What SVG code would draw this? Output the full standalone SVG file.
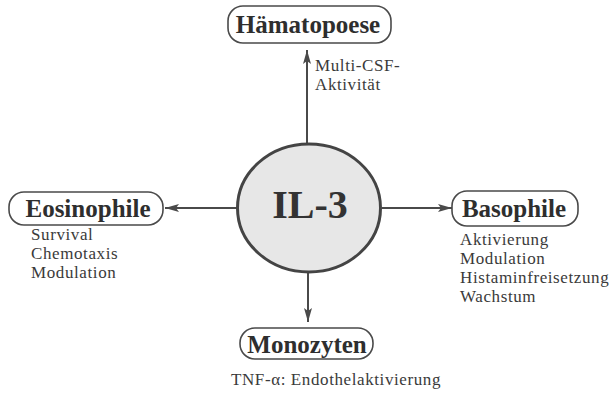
<svg xmlns="http://www.w3.org/2000/svg" width="616" height="397" viewBox="0 0 616 397">
  <style>
    .box { fill: #ffffff; stroke: #4a4a4a; stroke-width: 1.6; }
    .title { font-family: "Liberation Serif", "Times New Roman", serif; font-weight: bold; font-size: 25px; fill: #2e2e2e; }
    .sub { font-family: "Liberation Serif", "Times New Roman", serif; font-size: 17px; letter-spacing: 0.6px; fill: #3a3a3a; }
    .link { stroke: #4a4a4a; stroke-width: 2; fill: none; marker-end: url(#head); }
  </style>
  <defs>
    <marker id="head" viewBox="0 0 14 8" refX="14" refY="4" markerWidth="14" markerHeight="8" markerUnits="userSpaceOnUse" orient="auto">
      <path d="M0,0 L14,4 L0,8 L3,4 Z" fill="#4a4a4a"/>
    </marker>
  </defs>
  <rect width="616" height="397" fill="#ffffff"/>

  <!-- connectors radiating from the central cytokine -->
  <g id="connectors">
    <line class="link" x1="307" y1="143" x2="307" y2="50"/>
    <line class="link" x1="237" y1="208" x2="165" y2="208"/>
    <line class="link" x1="382" y1="208" x2="452" y2="208"/>
    <line class="link" x1="308" y1="272" x2="308" y2="322"/>
  </g>

  <g id="il3">
    <ellipse cx="309" cy="208" rx="71.5" ry="64" fill="#e7e7e7" stroke="#444444" stroke-width="3"/>
    <text x="310" y="218" text-anchor="middle" font-family="Liberation Serif, Times New Roman, serif" font-weight="bold" font-size="40" fill="#333333">IL-3</text>
  </g>

  <g id="haematopoese">
    <rect class="box" x="228" y="6" width="163" height="37" rx="15"/>
    <text class="title" x="308" y="33" text-anchor="middle">Hämatopoese</text>
    <text class="sub" x="315" y="71">Multi-CSF-</text>
    <text class="sub" x="315" y="90">Aktivität</text>
  </g>

  <g id="eosinophile">
    <rect class="box" x="9" y="192" width="154" height="33" rx="15"/>
    <text class="title" x="88" y="217" text-anchor="middle" font-size="26">Eosinophile</text>
    <text class="sub" x="31" y="240">Survival</text>
    <text class="sub" x="31" y="259">Chemotaxis</text>
    <text class="sub" x="31" y="278">Modulation</text>
  </g>

  <g id="basophile">
    <rect class="box" x="452" y="191" width="126" height="35" rx="15"/>
    <text class="title" x="514" y="217" text-anchor="middle" font-size="26">Basophile</text>
    <text class="sub" x="460" y="245">Aktivierung</text>
    <text class="sub" x="460" y="264">Modulation</text>
    <text class="sub" x="460" y="283">Histaminfreisetzung</text>
    <text class="sub" x="460" y="302">Wachstum</text>
  </g>

  <g id="monozyten">
    <rect class="box" x="240" y="328" width="133" height="31" rx="15"/>
    <text class="title" x="307" y="353" text-anchor="middle" font-size="24">Monozyten</text>
    <text class="sub" x="231" y="385">TNF-α: Endothelaktivierung</text>
  </g>
</svg>
